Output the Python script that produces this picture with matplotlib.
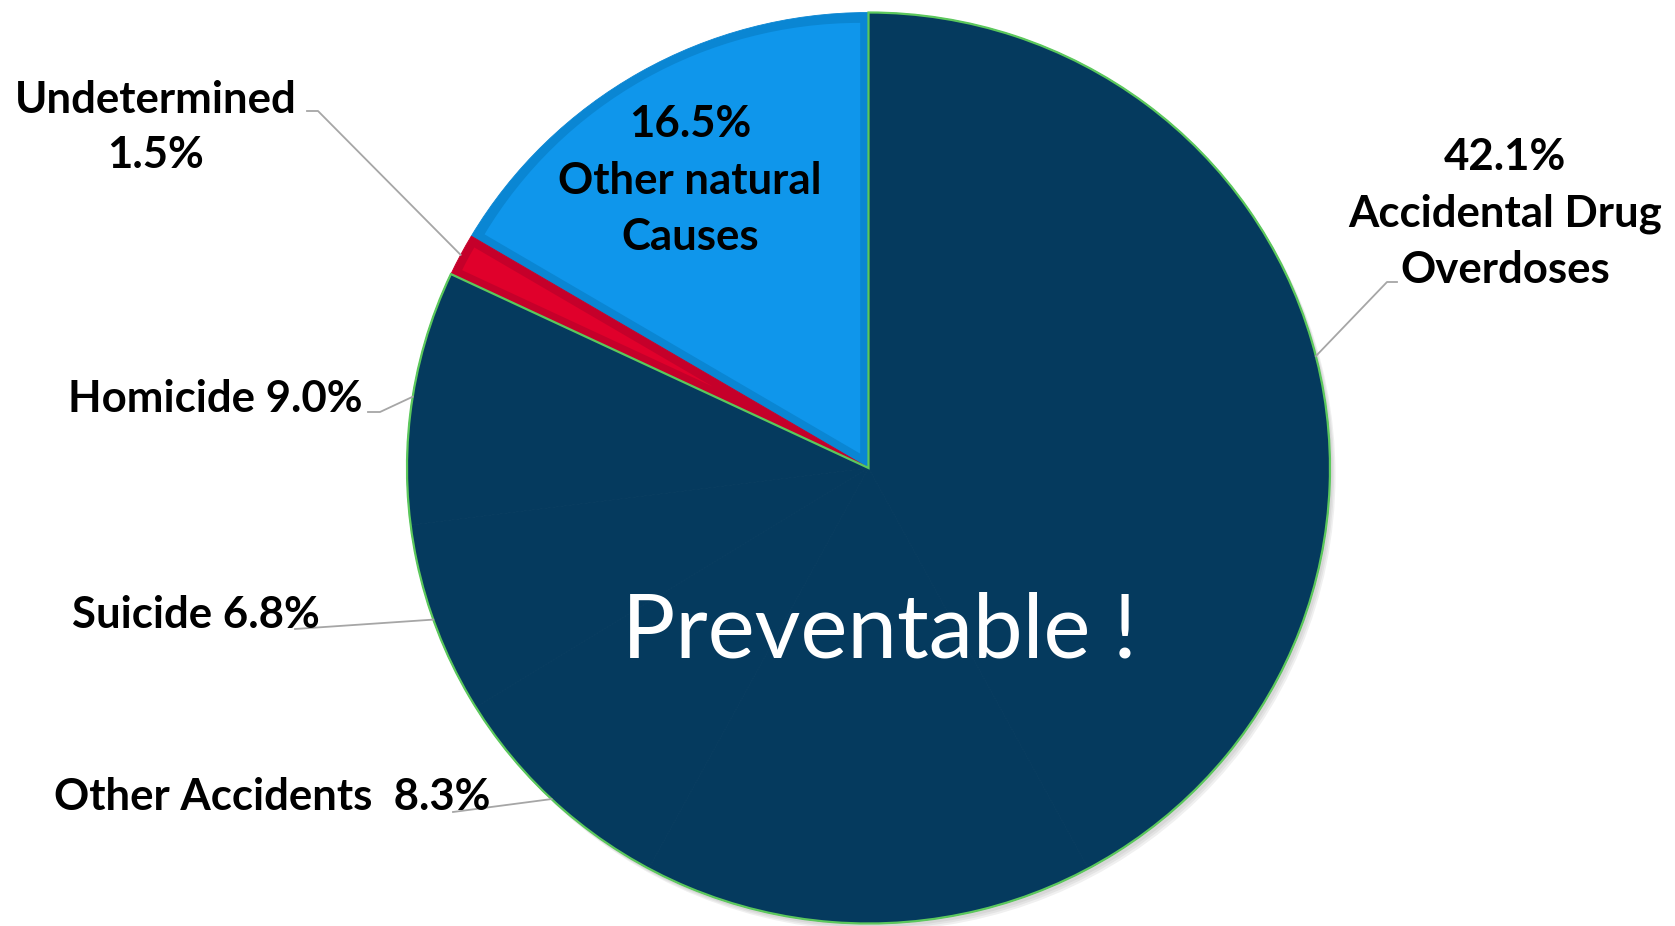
import numpy as np
import matplotlib.pyplot as plt
from matplotlib.patches import Wedge, Ellipse

# slice values in %, counter-clockwise from 12 o'clock
causes = ['Other natural Causes', 'Undetermined', 'Homicide', 'Suicide',
          'Other Accidents', 'Other', 'Accidental Drug Overdoses']
shares = [16.5, 1.5, 9.0, 6.8, 8.3, 15.8, 42.1]
labels = ['16.5%\nOther natural\nCauses', 'Undetermined\n1.5%', 'Homicide 9.0%',
          'Suicide 6.8%', 'Other Accidents  8.3%', '',
          '42.1%\nAccidental Drug\nOverdoses']
centre_text = 'Preventable !'

navy = '#053a5e'
blue, blue_dk = '#0f96eb', '#0a86d3'
red, red_dk = '#e0002b', '#c5002a'
green = '#5cc85c'
colors = [blue_dk, red_dk, navy, navy, navy, navy, navy]
inner = [blue, red, None, None, None, None, None]

W, H = 1675, 926
cx, cy, rx, ry = 868.5, 468.0, 461.5, 455.5   # pie box in pixels

def px(x, y):
    # pixel (from top-left) -> data coords of the pie axes
    return (x - cx) / rx, (cy - y) / ry

fig = plt.figure(figsize=(W / 100, H / 100), dpi=100)
ax = fig.add_axes([(cx - rx) / W, (H - cy - ry) / H, 2 * rx / W, 2 * ry / H])

# soft shadow
for i, a in enumerate([0.05, 0.05, 0.06]):
    ax.add_patch(Ellipse((0.006 + 0.003 * i, -0.008 - 0.004 * i), 2, 2,
                         color='black', alpha=a, lw=0, zorder=0, clip_on=False))

wedges, _ = ax.pie(shares, colors=colors, startangle=90, counterclock=True,
                   radius=1, center=(0, 0), wedgeprops=dict(linewidth=0.6))
for w, c in zip(wedges, colors):
    w.set_edgecolor(c)
    w.set_zorder(1)
    w.set_clip_on(False)

# lighter fill inset inside the blue and red slices, leaving a darker rim
d = 0.018
for w, fc in zip(wedges, inner):
    if fc is None:
        continue
    half = np.deg2rad((w.theta2 - w.theta1) / 2)
    t = np.deg2rad((w.theta1 + w.theta2) / 2)
    s = d / np.sin(half)
    ax.add_patch(Wedge((s * np.cos(t), s * np.sin(t)), 1 - s - d, w.theta1, w.theta2,
                       facecolor=fc, edgecolor='none', zorder=1.5))

# green outline round the preventable / navy part
dark = [w for w, c in zip(wedges, colors) if c == navy]
ax.add_patch(Wedge((0, 0), 1, dark[0].theta1, dark[-1].theta2, facecolor='none',
                   edgecolor=green, linewidth=1.6, zorder=2, clip_on=False))

ax.set_aspect('auto')
ax.set_xlim(-1, 1)
ax.set_ylim(-1, 1)
ax.axis('off')

lab = dict(family='Lato', weight='bold', fontsize=31.5, color='black', zorder=5)
grey = dict(color='#a6a6a6', lw=1.3, zorder=3, clip_on=False)

def mid(k):
    t = np.deg2rad((wedges[k].theta1 + wedges[k].theta2) / 2)
    return np.cos(t), np.sin(t)

# inside label for the blue slice (baseline = last line)
ax.text(*px(690, 250), labels[0], ha='center', va='baseline', linespacing=1.5, **lab)

# Undetermined
ax.text(*px(156, 168), labels[1], ha='center', va='baseline', linespacing=1.45, **lab)
x0, y0 = px(307, 111); x1, y1 = px(318, 111); x2, y2 = mid(1)
ax.plot([x0, x1, x2], [y0, y1, y2], **grey)

# Homicide
ax.text(*px(363, 412), labels[2], ha='right', va='baseline', **lab)
x0, y0 = px(368, 412); x1, y1 = px(380, 412); x2, y2 = mid(2)
ax.plot([x0, x1, x2], [y0, y1, y2], **grey)

# Suicide
ax.text(*px(320, 628), labels[3], ha='right', va='baseline', **lab)
x0, y0 = px(295, 629); x2, y2 = mid(3)
ax.plot([x0, x2], [y0, y2], **grey)

# Other accidents
ax.text(*px(490, 810), labels[4], ha='right', va='baseline', **lab)
x0, y0 = px(453, 812); x2, y2 = mid(4)
ax.plot([x0, x2], [y0, y2], **grey)

# Accidental drug overdoses
ax.text(*px(1505, 283), labels[6], ha='center', va='baseline', linespacing=1.5, **lab)
x0, y0 = px(1397, 282); x1, y1 = px(1387, 282); x2, y2 = mid(6)
ax.plot([x0, x1, x2], [y0, y1, y2], **grey)

ax.text(*px(880, 657), centre_text, ha='center', va='baseline', family='Lato',
        fontsize=64, color='white', zorder=5)

fig.savefig('out.png', dpi=100, facecolor='white')
